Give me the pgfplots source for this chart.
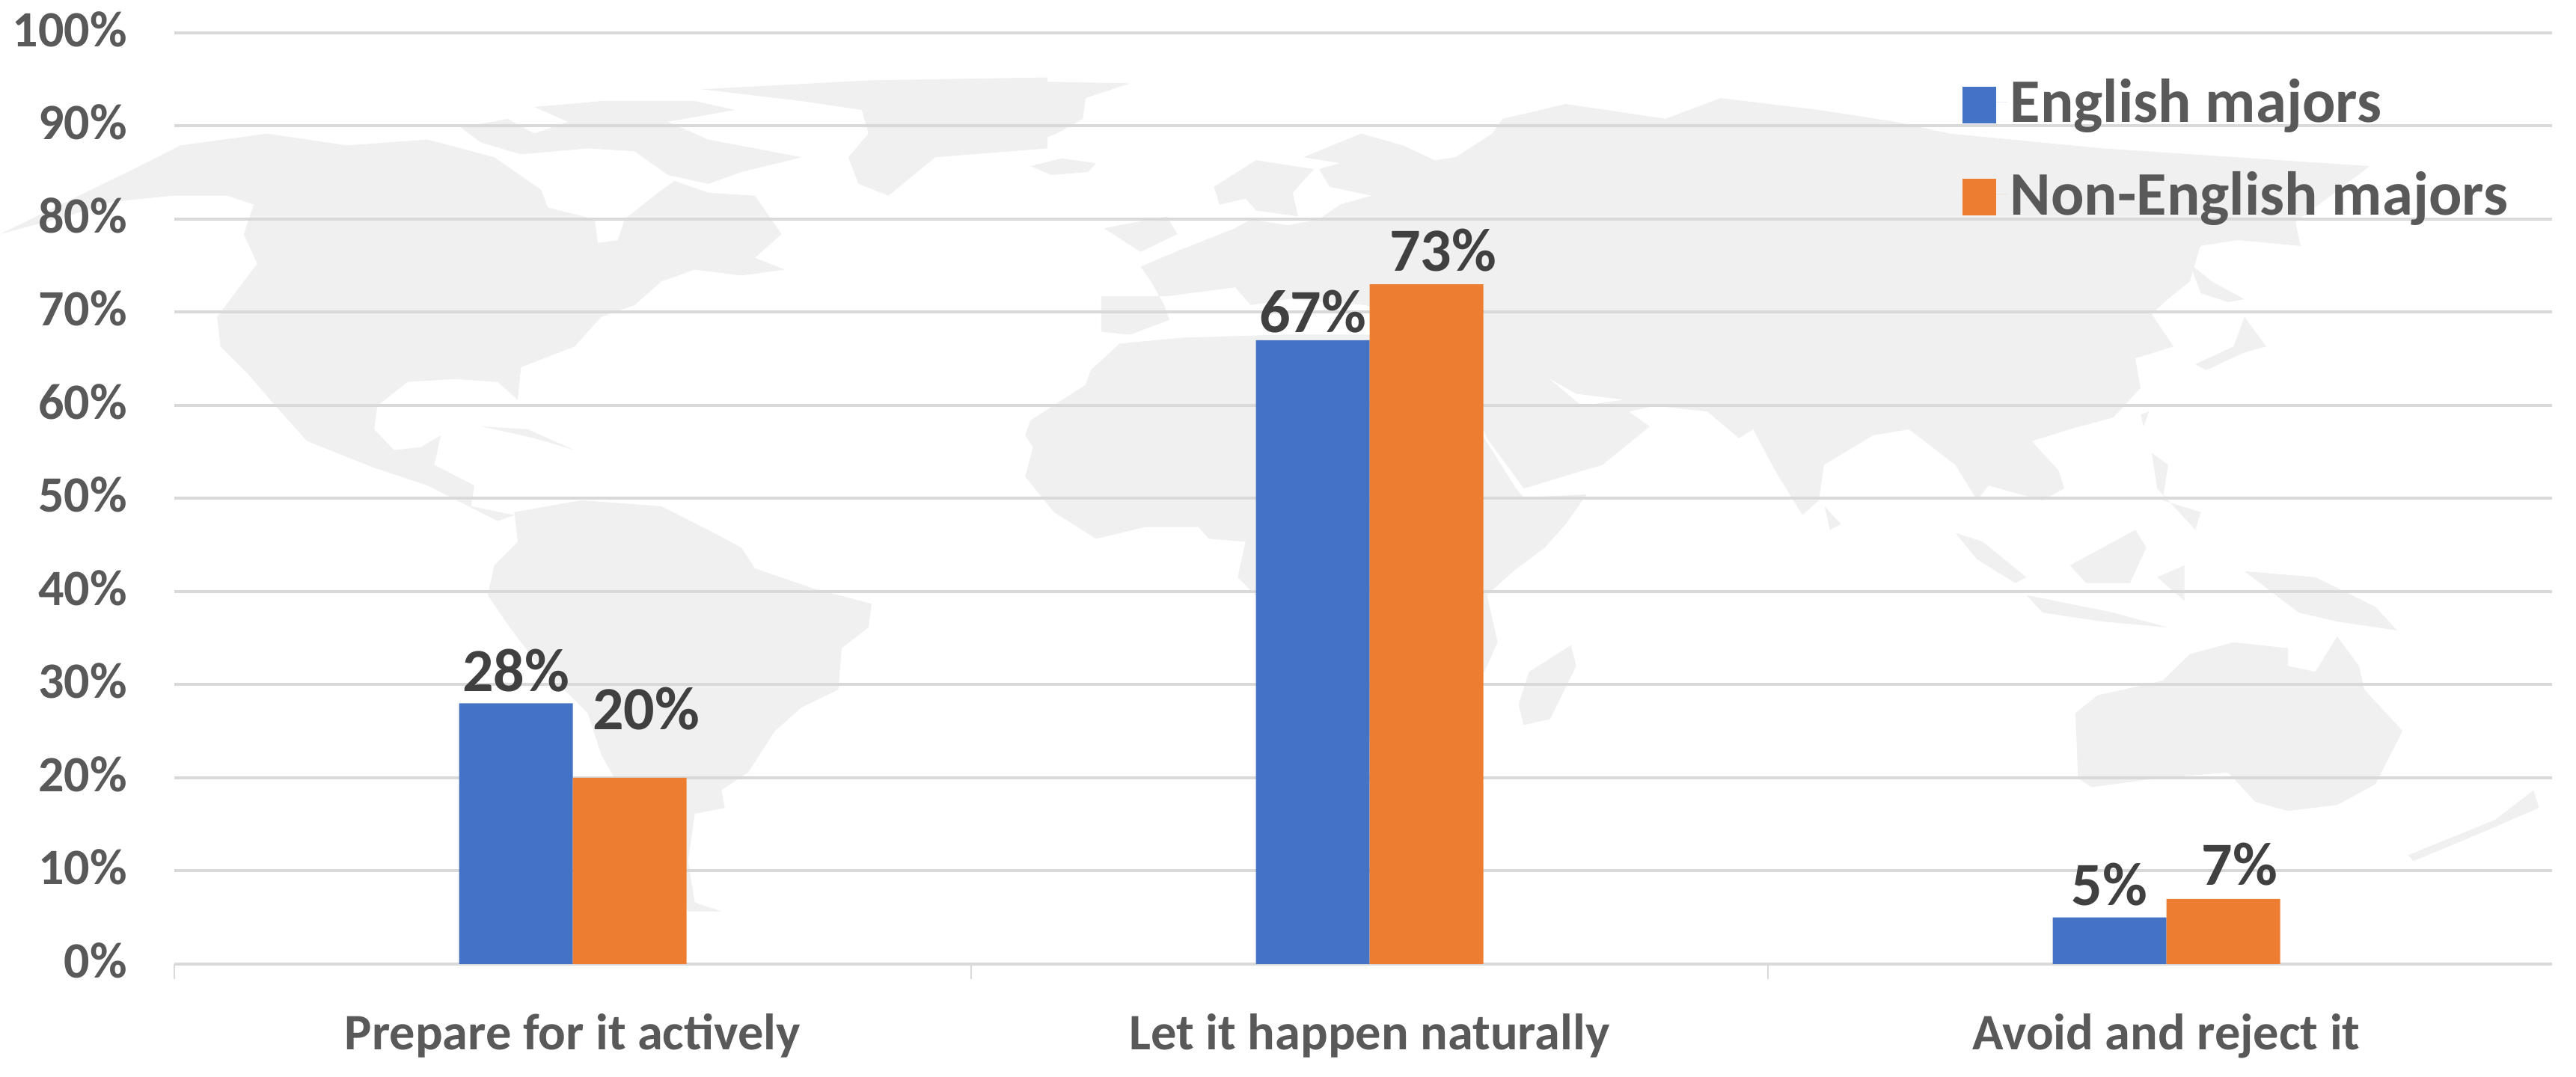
\documentclass[border=0pt]{standalone}
\usepackage{pgfplots}
\pgfplotsset{compat=1.18}
\usepackage{fontspec}
\setmainfont{Carlito}
\definecolor{barblue}{HTML}{4472C4}
\definecolor{barorange}{HTML}{ED7D31}
\definecolor{gridgrey}{HTML}{D9D9D9}
\definecolor{txt}{HTML}{595959}
\definecolor{lab}{HTML}{404040}
\definecolor{landgrey}{HTML}{F0F0F0}
\pgfplotsset{
  mapframe/.style={hide axis, scale only axis, clip=false, ymin=0, ymax=1568, xmin=0, xmax=1568,
    y dir=reverse, height=620pt, anchor=south west},
  land/.style={draw=none, fill=landgrey, forget plot, no markers},
}
\begin{document}
\begin{tikzpicture}
\path[use as bounding box] (0pt,0pt) rectangle (1721.5pt,720pt);
% world-map watermark: left frame
\begin{axis}[mapframe, at={(0pt,70pt)}, width=700pt]
\addplot[land] coordinates {(0,320)(200,210)(270,170)(400,150)(520,170)(640,160)(740,190)(810,245)(820,275)(890,295)(895,335)(925,330)(935,295)(985,250)(1010,230)(1060,250)(1130,255)(1170,320)(1130,360)(1175,380)(1110,390)(1040,380)(990,400)(950,440)(900,460)(860,510)(780,545)(775,600)(745,570)(680,565)(610,570)(565,610)(560,650)(590,685)(630,680)(660,660)(650,710)(710,745)(705,780)(770,795)(745,805)(640,745)(560,715)(460,670)(420,620)(370,555)(330,510)(325,460)(385,370)(365,320)(380,270)(340,255)(260,255)(170,265)(100,290)} -- cycle;
\addplot[land] coordinates {(690,140)(760,125)(800,150)(850,130)(800,105)(900,95)(1040,95)(1100,110)(1000,130)(1060,160)(1130,175)(1200,190)(1110,215)(1060,235)(1000,220)(950,180)(880,175)(780,185)(720,165)} -- cycle;
\addplot[land] coordinates {(1050,75)(1300,60)(1568,55)(1568,175)(1400,190)(1330,255)(1285,235)(1270,190)(1300,150)(1290,110)(1200,95)} -- cycle;
\addplot[land] coordinates {(770,790)(870,770)(990,780)(1060,820)(1110,850)(1130,885)(1220,920)(1305,945)(1300,985)(1260,1020)(1255,1090)(1200,1120)(1160,1160)(1120,1230)(1080,1260)(1085,1290)(1040,1300)(1030,1380)(1040,1450)(1080,1465)(1030,1465)(1000,1400)(950,1300)(900,1200)(880,1130)(800,1040)(760,980)(730,930)(740,880)(775,840)} -- cycle;
\addplot[land] coordinates {(720,645)(790,650)(860,685)(800,665)} -- cycle;
\end{axis}
% middle frame
\begin{axis}[mapframe, at={(650pt,70pt)}, width=550pt]
\addplot[land] coordinates {(0,60)(300,65)(215,90)(210,125)(160,150)(100,170)(0,185)} -- cycle;
\addplot[land] coordinates {(110,205)(170,192)(235,200)(220,215)(150,220)} -- cycle;
\addplot[land] coordinates {(250,310)(370,290)(390,320)(320,350)} -- cycle;
\addplot[land] coordinates {(460,240)(540,195)(650,210)(610,250)(620,290)(540,280)(520,260)(470,270)} -- cycle;
\addplot[land] coordinates {(245,425)(245,485)(300,490)(375,465)(365,440)(340,400)(320,375)(400,345)(500,310)(530,295)(600,305)(660,295)(700,270)(760,255)(680,240)(660,210)(700,200)(630,190)(740,150)(820,170)(880,195)(920,190)(990,150)(1010,125)(1130,100)(1320,125)(1425,90)(1612,110)(1758,130)(1862,150)(2153,175)(2662,205)(2520,300)(2530,340)(2410,330)(2339,340)(2319,400)(2277,430)(2246,455)(2288,510)(2215,530)(2225,580)(2173,630)(2090,650)(2018,670)(2069,720)(2080,750)(2038,770)(1935,745)(1914,770)(1872,710)(1784,650)(1716,660)(1622,710)(1612,770)(1581,795)(1529,720)(1487,650)(1460,665)(1400,620)(1300,610)(1250,620)(1290,645)(1200,710)(1050,750)(980,665)(900,500)(750,440)(600,430)(530,440)(500,410)(370,425)} -- cycle;
\addplot[draw=none, fill=white, forget plot, no markers] coordinates {(1100,565)(1160,610)(1240,600)(1150,590)} -- cycle;
\addplot[land] coordinates {(280,505)(225,550)(215,575)(110,635)(100,660)(115,680)(100,730)(155,790)(235,835)(330,815)(430,815)(450,835)(520,840)(505,900)(560,950)(650,1100)(800,1200)(975,1060)(1000,1010)(980,930)(1030,890)(1090,850)(1130,810)(1170,760)(1050,765)(1035,750)(975,665)(850,490)(590,490)(400,495)} -- cycle;
\addplot[land] coordinates {(1060,1060)(1140,1015)(1150,1050)(1100,1140)(1050,1150)(1040,1115)} -- cycle;
\end{axis}
% right frame
\begin{axis}[mapframe, at={(1150pt,70pt)}, width=571.5pt]
\addplot[land] coordinates {(860,370)(900,400)(960,430)(930,435)(880,420)} -- cycle;
\addplot[land] coordinates {(650,1130)(690,1100)(810,1075)(860,1030)(940,1010)(1040,1020)(1040,1050)(1090,1060)(1130,1000)(1170,1050)(1180,1090)(1250,1160)(1200,1250)(1130,1285)(1040,1295)(980,1280)(930,1230)(800,1240)(680,1255)(655,1240)} -- cycle;
\addplot[land] coordinates {(1260,1370)(1420,1310)(1490,1260)(1500,1290)(1400,1330)(1270,1380)} -- cycle;
\addplot[land] coordinates {(430,825)(480,840)(560,900)(540,910)(470,870)} -- cycle;
\addplot[land] coordinates {(560,930)(720,960)(820,985)(700,975)(590,960)} -- cycle;
\addplot[land] coordinates {(640,880)(760,820)(780,850)(750,910)(670,910)} -- cycle;
\addplot[land] coordinates {(790,690)(820,710)(810,770)(880,790)(870,820)(800,750)} -- cycle;
\addplot[land] coordinates {(960,890)(1090,900)(1200,950)(1240,990)(1130,975)(1060,960)} -- cycle;
\addplot[land] coordinates {(800,900)(850,880)(850,940)} -- cycle;
\addplot[land] coordinates {(870,540)(940,510)(960,460)(1000,510)(960,520)(890,550)} -- cycle;
\addplot[land] coordinates {(190,780)(220,810)(200,820)} -- cycle;
\addplot[land] coordinates {(770,625)(785,620)(775,645)} -- cycle;
\end{axis}
% chart
\begin{axis}[
  at={(116.5pt,75.5pt)}, anchor=south west, scale only axis,
  width=1589pt, height=622.5pt,
  xmin=-0.5, xmax=2.484, ymin=0, ymax=100,
  ybar=0pt, bar width=76pt,
  axis x line*=bottom, axis y line*=left,
  y axis line style={draw=none},
  x axis line style={draw=gridgrey, line width=2pt, -},
  ymajorgrids, major grid style={draw=gridgrey, line width=2pt},
  xtick={0,1,2},
  xticklabels={Prepare for it actively, Let it happen naturally, Avoid and reject it},
  ytick={0,10,...,100},
  yticklabels={0\%,10\%,20\%,30\%,40\%,50\%,60\%,70\%,80\%,90\%,100\%},
  major tick length=0pt,
  extra x ticks={-0.5,0.5,1.5},
  extra x tick labels={},
  extra x tick style={tick align=outside, major tick length=10pt, tick style={draw=gridgrey, line width=1pt}},
  xticklabel style={font=\fontsize{34.2}{40}\selectfont\bfseries, text=txt, anchor=base, inner sep=0pt, yshift=-57pt},
  yticklabel style={font=\fontsize{34}{40}\selectfont\bfseries, text=txt, anchor=east, inner sep=0pt, xshift=-31.5pt, yshift=2.5pt},
  nodes near coords={\pgfmathprintnumber[assume math mode=true]{\pgfplotspointmeta}\%},
  nodes near coords style={font=\fontsize{41}{48}\selectfont\bfseries, text=lab, inner sep=0pt, anchor=base},
  legend style={draw=none, fill=none, at={(0.752,0.9535)}, anchor=north west, inner sep=0pt, outer sep=0pt,
    font=\fontsize{41.4}{49}\selectfont\bfseries, text=txt, row sep=27pt},
  legend cell align=left,
  legend image code/.code={\path (0pt,0pt) -- (30pt,0pt);\fill[#1] (0pt,-14.45pt) rectangle (22.5pt,10.05pt);},
]
\addplot[fill=barblue, draw=none,
  nodes near coords style={yshift=8pt},
  coordinate style/.condition={\coordindex==1}{yshift=-3pt}]
  coordinates {(0,28)(1,67)(2,5)};
\addlegendentry{English majors}
\addplot[fill=barorange, draw=none,
  nodes near coords style={xshift=11pt, yshift=9pt},
  coordinate style/.condition={\coordindex==0}{yshift=23pt}]
  coordinates {(0,20)(1,73)(2,7)};
\addlegendentry{Non-English majors}
\end{axis}
\end{tikzpicture}
\end{document}
